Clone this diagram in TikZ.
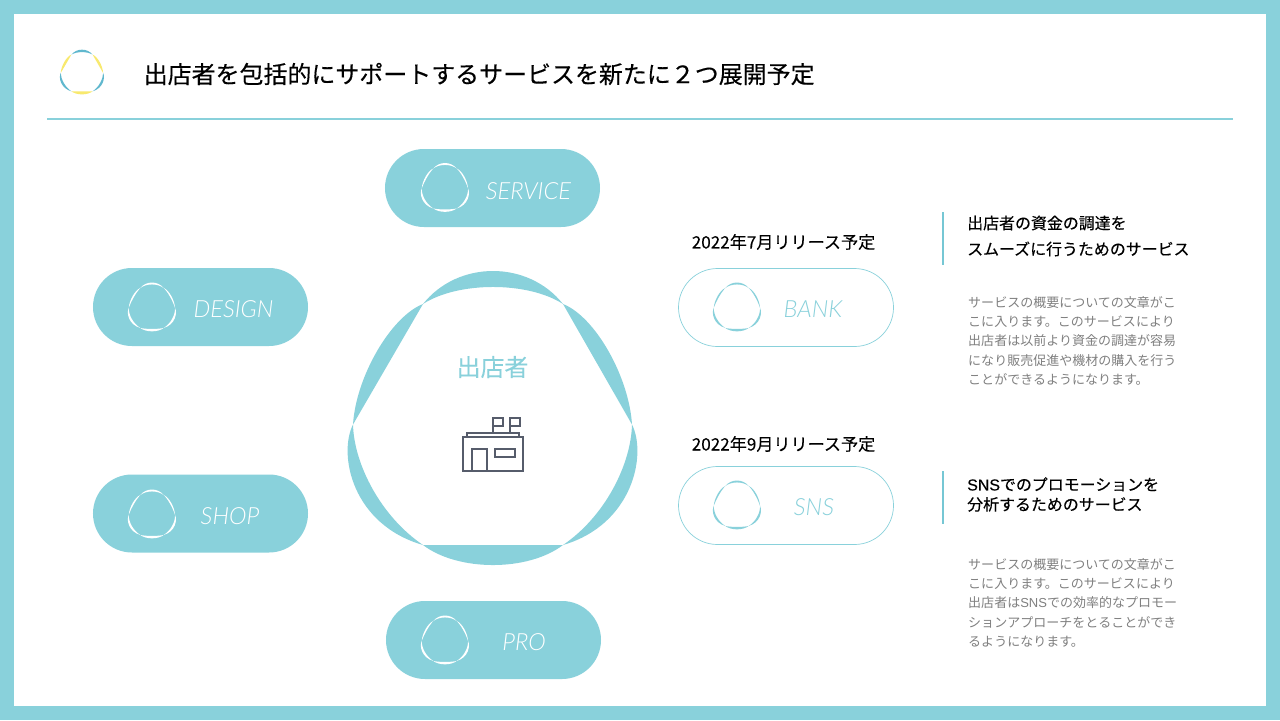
\documentclass[tikz,border=0pt]{standalone}
\usepackage{fontspec}
\usepackage{xcolor}
\usetikzlibrary{positioning}
\setmainfont{Noto Sans CJK JP}
\newfontfamily\cjk{Noto Sans CJK JP}
\newfontfamily\cjkhead[FakeBold=0.25]{Noto Sans CJK JP}
\newfontfamily\cjkmid[FakeBold=0.12]{Noto Sans CJK JP}
\newfontfamily\latlight[ItalicFont=Lato Light Italic]{Lato Light}
\newfontfamily\latbody{Liberation Sans}
\newfontfamily\lathead[FakeBold=0.25]{Liberation Sans}
\definecolor{mkteal}{RGB}{137,209,219}
\definecolor{mkline}{RGB}{118,199,212}
\definecolor{mkblue}{RGB}{96,184,206}
\definecolor{mkyellow}{RGB}{248,233,110}
\definecolor{mkslate}{RGB}{86,92,107}
\definecolor{mkgrey}{RGB}{128,128,128}
\tikzstyle{storeline} = [line width=1.7pt,color=mkslate,line join=miter]

% three-lobed mark: centre x, centre y, scale, colour A, colour B
\newcommand{\logomark}[5]{
\begin{scope}[shift={(#1,#2)},scale=#3]
\fill[#4] (-70,-120.5) .. controls (-35,-164.5) and (35,-164.5) .. (70,-120.5) .. controls (35,-143.2) and (-35,-143.2) .. cycle;
\fill[#5] (70,-120.5) .. controls (102,-108) and (136,-48) .. (139,0) -- cycle;
\fill[#4] (139,0) .. controls (154,30) and (140,100) .. (70,120.5) .. controls (112,92) and (138,40) .. cycle;
\fill[#5] (70,120.5) .. controls (35,147.2) and (-35,147.2) .. (-70,120.5) -- cycle;
\fill[#4] (-140,0) .. controls (-155,30) and (-141,100) .. (-70,120.5) .. controls (-112,92) and (-139,40) .. cycle;
\fill[#5] (-70,-120.5) .. controls (-102,-108) and (-137,-48) .. (-140,0) -- cycle;
\end{scope}
}

% same mark with slimmer lobes, for the pills
\newcommand{\thinmark}[4]{
\begin{scope}[shift={(#1,#2)},scale=#3]
\fill[#4] (-70,-120.5) .. controls (-35,-164.5) and (35,-164.5) .. (70,-120.5) .. controls (35,-149) and (-35,-149) .. cycle;
\fill[#4] (70,-120.5) .. controls (102,-108) and (136,-48) .. (139,0) .. controls (126,-42) and (94,-100) .. cycle;
\fill[#4] (139,0) .. controls (154,30) and (140,100) .. (70,120.5) .. controls (115,93) and (140,40) .. cycle;
\fill[#4] (70,120.5) .. controls (35,147.2) and (-35,147.2) .. (-70,120.5) .. controls (-35,128) and (35,128) .. cycle;
\fill[#4] (-140,0) .. controls (-155,30) and (-141,100) .. (-70,120.5) .. controls (-115,93) and (-141,40) .. cycle;
\fill[#4] (-70,-120.5) .. controls (-102,-108) and (-137,-48) .. (-140,0) .. controls (-125,-45) and (-90,-102) .. cycle;
\end{scope}
}

\begin{document}
\begin{tikzpicture}[x=0.03cm, y=-0.03cm,
    solidpill/.style={rectangle, rounded corners=1.17cm, fill=mkteal, minimum width=6.45cm, minimum height=2.34cm, inner sep=0pt},
    openpill/.style={rectangle, rounded corners=1.17cm, draw=mkteal, line width=0.6pt, fill=white, minimum width=6.45cm, minimum height=2.34cm, inner sep=0pt},
    pilltext/.style={font=\latlight\itshape\fontsize{20.2}{22}\selectfont, inner sep=0pt},
    datetext/.style={font=\cjkmid\fontsize{14.6}{17}\selectfont, inner sep=0pt},
    headtext/.style={font=\cjkhead\fontsize{13.6}{#1}\selectfont, align=left, anchor=west, inner sep=0pt},
    bodytext/.style={font=\cjk\fontsize{11.1}{16.5}\selectfont, text=mkgrey, align=left, anchor=north west, inner sep=0pt}]
\useasboundingbox (0,0) rectangle (1280,720);

% Frame
\fill[mkteal] (0,0) rectangle (1280,720);
\fill[white] (14,14) rectangle (1266,706);

% Title
\logomark{82}{73}{0.152}{mkblue}{mkyellow}
\node[font=\cjkhead\fontsize{20.45}{24}\selectfont, anchor=west, inner sep=0pt] (title) at (143.5,74) {出店者を包括的にサポートするサービスを新たに２つ展開予定};
\draw[mkteal, line width=1.1pt] (47,119) -- (1233,119);

% Central mark
\logomark{493}{424.5}{1}{mkteal}{mkteal}
\node[font=\cjkmid\fontsize{20.4}{24}\selectfont, text=mkteal, inner sep=0pt] (seller) at (492.5,367) {出店者};

% Store icon
\draw[storeline] (462.7,437.3) rectangle (522.7,471);
\draw[storeline] (466.7,437.3) -- (466.7,432.7) -- (519.3,432.7) -- (519.3,437.3);
\draw[storeline] (471.7,471) -- (471.7,449.3) -- (486.7,449.3) -- (486.7,471);
\draw[storeline] (495,449.3) rectangle (515,456.7);
\draw[storeline] (492.7,432.7) -- (492.7,418.3) -- (503,418.3) -- (503,426) -- (492.7,426);
\draw[storeline] (509.5,432.7) -- (509.5,418.3) -- (519.6,418.3) -- (519.6,426) -- (509.5,426);

% Filled pills
\node[solidpill] (service) at (492.5,188) {};
\node[solidpill] (design) at (200.5,307) {};
\node[solidpill] (shop) at (200.5,513.5) {};
\node[solidpill] (pro) at (493.5,640) {};
\thinmark{445}{188.5}{0.166}{white}
\thinmark{152}{308}{0.166}{white}
\thinmark{152}{515}{0.166}{white}
\thinmark{445}{641}{0.166}{white}
\node[pilltext, text=white] (servicetext) at (528.5,191) {SERVICE};
\node[pilltext, text=white] (designtext) at (233.5,309) {DESIGN};
\node[pilltext, text=white] (shoptext) at (230,516) {SHOP};
\node[pilltext, text=white] (protext) at (524,642) {PRO};

% Open pills
\node[openpill] (bank) at (786,307.5) {};
\node[openpill] (sns) at (786,505.5) {};
\thinmark{737}{308}{0.166}{mkteal}
\thinmark{737}{506}{0.166}{mkteal}
\node[pilltext, text=mkteal] (banktext) at (813,309) {BANK};
\node[pilltext, text=mkteal] (snstext) at (814,507) {SNS};
\node[datetext] (bankdate) at (783.5,242) {2022年7月リリース予定};
\node[datetext] (snsdate) at (783.5,444) {2022年9月リリース予定};

% Right column
\draw[mkline, line width=1.5pt] (943,212) -- (943,265);
\draw[mkline, line width=1.5pt] (943,471) -- (943,524);
\node[headtext=22.2] (bankhead) at (967,236) {出店者の資金の調達を\\スムーズに行うためのサービス};
\node[headtext=17] (snshead) at (967,494.5) {{\lathead SNS}でのプロモーションを\\分析するためのサービス};
\node[bodytext] (bankbody) at (968,296) {サービスの概要についての文章がこ\\ こに入ります。このサービスにより\\ 出店者は以前より資金の調達が容易\\ になり販売促進や機材の購入を行う\\ ことができるようになります。};
\node[bodytext] (snsbody) at (968,558) {サービスの概要についての文章がこ\\ こに入ります。このサービスにより\\ 出店者は{\latbody SNS}での効率的なプロモー\\ ションアプローチをとることができ\\ るようになります。};

\end{tikzpicture}
\end{document}
